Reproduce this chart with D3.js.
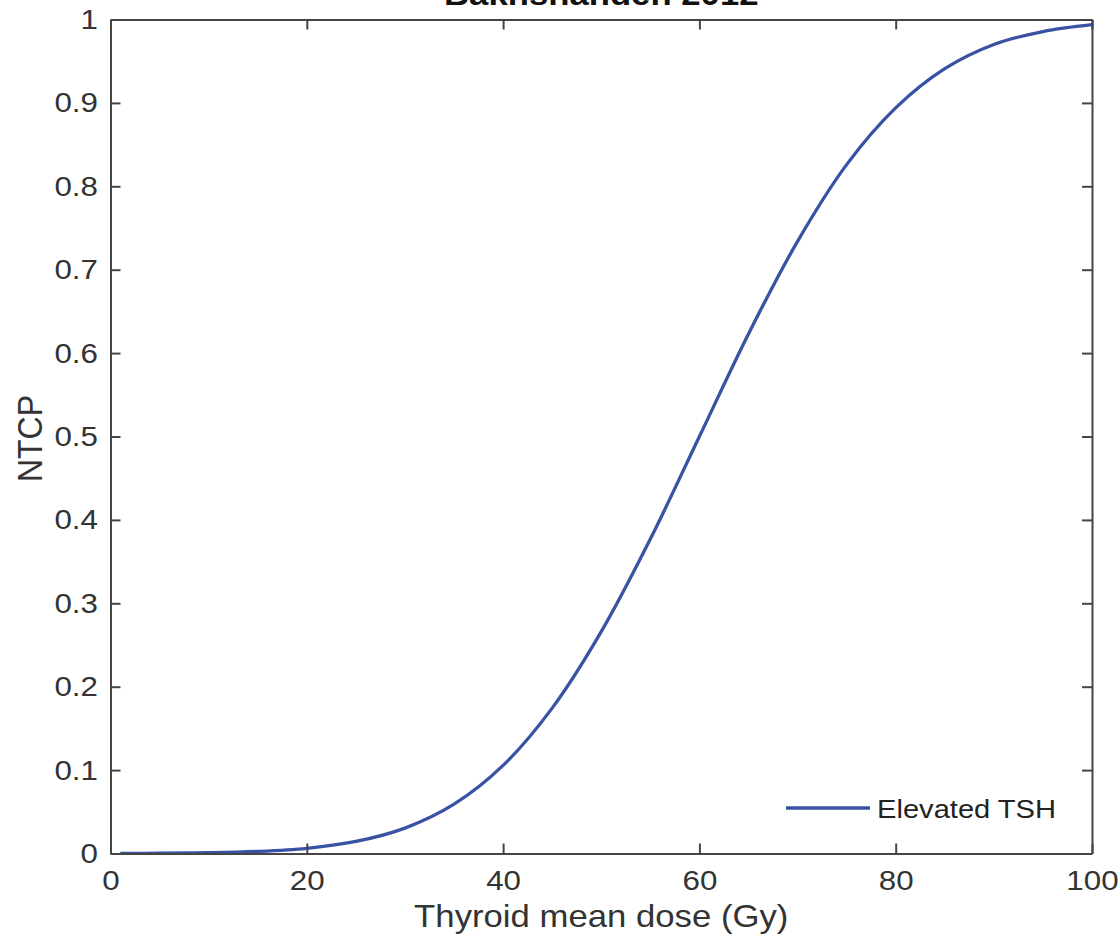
<!DOCTYPE html>
<html>
<head>
<meta charset="utf-8">
<script src="https://cdn.jsdelivr.net/npm/d3@7"></script>
<style>
  html, body { margin: 0; padding: 0; background: #fff; }
  svg { display: block; font-family: "Liberation Sans", Arial, Helvetica, sans-serif; }
</style>
</head>
<body>
<svg id="chart" width="1120" height="944"></svg>
<script>
// ---- data ----
const chartTitle = "Bakhshandeh 2012";
const xLabel = "Thyroid mean dose (Gy)";
const yLabel = "NTCP";
const seriesName = "Elevated TSH";
const dose = [1, 5, 10, 15, 20, 25, 30, 35, 40, 45, 50, 55, 60, 65, 70, 75, 80, 85, 90, 95, 100];
const ntcp = [0.0001, 0.0003, 0.0009, 0.0025, 0.0062, 0.0144, 0.0304, 0.0591, 0.1056, 0.1743, 0.266, 0.377, 0.5, 0.623, 0.734, 0.826, 0.894, 0.941, 0.970, 0.9856, 0.9938];
const xTicks = [0, 20, 40, 60, 80, 100];
const yTicks = [0, 0.1, 0.2, 0.3, 0.4, 0.5, 0.6, 0.7, 0.8, 0.9, 1];

// ---- layout ----
const svg = d3.select("#chart");
const pL = 110.5, pR = 1092, pT = 19.5, pB = 853.5;
const axisColor = "#454545", textColor = "#333333", lineColor = "#3953A4";
const sx = 1.12; // the reference glyphs are horizontally wider

const x = d3.scaleLinear().domain([0, 100]).range([pL, pR]);
const y = d3.scaleLinear().domain([0, 1]).range([pB, pT]);

const points = dose.map((d, i) => ({ d, v: ntcp[i] }));

// curve
svg.append("path")
  .datum(points)
  .attr("fill", "none")
  .attr("stroke", lineColor)
  .attr("stroke-width", 3.3)
  .attr("stroke-linejoin", "round")
  .attr("d", d3.line().x(p => x(p.d)).y(p => y(p.v)).curve(d3.curveCatmullRom.alpha(0.5)));

// axes (ticks inward on all sides)
const tickLen = 10;
function styleAxis(g) {
  g.selectAll(".domain").attr("stroke", axisColor).attr("stroke-width", 2);
  g.selectAll(".tick line").attr("stroke", axisColor).attr("stroke-width", 2);
  g.selectAll(".tick text").attr("fill", textColor).attr("font-size", 28);
}
const fmtY = d => d === 0 ? "0" : d === 1 ? "1" : d3.format(".1f")(d);

const gxB = svg.append("g").attr("transform", `translate(0,${pB})`)
  .call(d3.axisBottom(x).tickValues(xTicks).tickSizeInner(-tickLen).tickSizeOuter(0).tickPadding(16.6))
  .call(styleAxis);
gxB.selectAll(".tick text").attr("transform", `scale(${sx},1)`);

svg.append("g").attr("transform", `translate(0,${pT})`)
  .call(d3.axisTop(x).tickValues(xTicks).tickSizeInner(-tickLen).tickSizeOuter(0).tickFormat(""))
  .call(styleAxis);

const gyL = svg.append("g").attr("transform", `translate(${pL},0)`)
  .call(d3.axisLeft(y).tickValues(yTicks).tickSizeInner(-tickLen).tickSizeOuter(0).tickFormat(fmtY))
  .call(styleAxis);
gyL.selectAll(".tick text").attr("x", 0).attr("transform", `translate(-12.5,0) scale(${sx},1)`);

svg.append("g").attr("transform", `translate(${pR},0)`)
  .call(d3.axisRight(y).tickValues(yTicks).tickSizeInner(-tickLen).tickSizeOuter(0).tickFormat(""))
  .call(styleAxis);

// title (clipped at top as in reference)
svg.append("text")
  .attr("transform", `translate(${(pL + pR) / 2},5) scale(${sx},1)`)
  .attr("text-anchor", "middle")
  .attr("font-size", 31).attr("font-weight", "bold").attr("fill", "#111")
  .text(chartTitle);

// axis labels
svg.append("text")
  .attr("transform", `translate(${(pL + pR) / 2},927) scale(${sx},1)`)
  .attr("text-anchor", "middle")
  .attr("font-size", 31).attr("fill", textColor)
  .text(xLabel);
svg.append("text")
  .attr("transform", `translate(41.7,438.5) rotate(-90) scale(1,${sx})`)
  .attr("text-anchor", "middle")
  .attr("font-size", 32).attr("fill", textColor)
  .text(yLabel);

// legend
const legY = 808;
svg.append("line")
  .attr("x1", 786).attr("x2", 870).attr("y1", legY).attr("y2", legY)
  .attr("stroke", lineColor).attr("stroke-width", 3.3);
svg.append("text")
  .attr("transform", `translate(877,${legY + 9.5}) scale(${sx},1)`)
  .attr("font-size", 26).attr("fill", "#222")
  .text(seriesName);
</script>
</body>
</html>
